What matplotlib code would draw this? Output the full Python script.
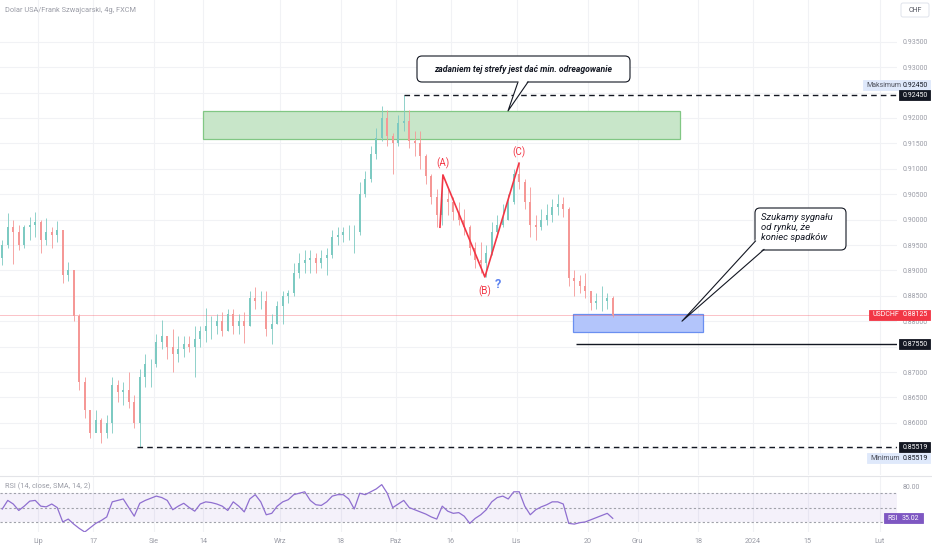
import matplotlib.pyplot as plt
import numpy as np
import pandas as pd
from matplotlib.lines import Line2D
from matplotlib.patches import FancyBboxPatch, Polygon, Rectangle
from matplotlib.ticker import FormatStrFormatter, FuncFormatter
from matplotlib.transforms import Affine2D

plt.rcParams["font.family"] = ["Roboto", "DejaVu Sans"]

W, H = 932, 550
ORIGIN = np.datetime64("2023-07-03")

# USDCHF, one candle per trading day (22 Jun - 24 Nov 2023)
days = pd.bdate_range("2023-06-22", "2023-11-24")
first_open = 0.8925
high = [
    0.8960, 0.9013, 0.9000, 0.8990, 0.8990, 0.9005, 0.9015,
    0.9000, 0.9003, 0.8985, 0.8998, 0.8980, 0.8917, 0.8900, 0.8815, 0.8690, 0.8625,
    0.8625, 0.8610, 0.8615, 0.8690, 0.8685, 0.8680, 0.8700, 0.8655, 0.8705, 0.8735,
    0.8725, 0.8775, 0.8802, 0.8770, 0.8785, 0.8770, 0.8770, 0.8770, 0.8790, 0.8790,
    0.8826, 0.8810, 0.8815, 0.8818, 0.8825, 0.8825, 0.8815, 0.8818, 0.8860, 0.8867,
    0.8860, 0.8860, 0.8815, 0.8840, 0.8860, 0.8862, 0.8915, 0.8935, 0.8940, 0.8940,
    0.8935, 0.8940, 0.8945, 0.8980, 0.8985, 0.8985, 0.8990, 0.8990, 0.9075, 0.9095,
    0.9145, 0.9180, 0.9223, 0.9215, 0.9170, 0.9205, 0.92450, 0.9215, 0.9175, 0.9175,
    0.9130, 0.9090, 0.9060, 0.9088, 0.9060, 0.9045, 0.9035, 0.9020, 0.8990, 0.8955,
    0.8955, 0.8950, 0.8995, 0.9010, 0.9030, 0.9050, 0.9100, 0.9112, 0.9080, 0.9065,
    0.9010, 0.9020, 0.9030, 0.9040, 0.9050, 0.9045, 0.9025, 0.8900, 0.8890, 0.8895,
    0.8860, 0.8855, 0.8870, 0.8855, 0.8850,
]
low = [
    0.8910, 0.8945, 0.8912, 0.8940, 0.8945, 0.8960, 0.8965,
    0.8935, 0.8950, 0.8945, 0.8955, 0.8876, 0.8880, 0.8800, 0.8665, 0.8610, 0.8570,
    0.8585, 0.8560, 0.8570, 0.8580, 0.8640, 0.8635, 0.8630, 0.8590, 0.85519, 0.8670,
    0.8670, 0.8710, 0.8745, 0.8725, 0.8700, 0.8720, 0.8730, 0.8740, 0.8690, 0.8750,
    0.8760, 0.8765, 0.8775, 0.8770, 0.8780, 0.8775, 0.8775, 0.8757, 0.8790, 0.8825,
    0.8825, 0.8770, 0.8755, 0.8795, 0.8795, 0.8835, 0.8850, 0.8885, 0.8895, 0.8895,
    0.8895, 0.8905, 0.8890, 0.8925, 0.8950, 0.8955, 0.8960, 0.8935, 0.8970, 0.9045,
    0.9075, 0.9120, 0.9155, 0.9145, 0.9090, 0.9145, 0.9175, 0.9140, 0.9125, 0.9100,
    0.9070, 0.9030, 0.8985, 0.8990, 0.9010, 0.9000, 0.8990, 0.8970, 0.8930, 0.8905,
    0.8895, 0.8887, 0.8930, 0.8965, 0.8985, 0.9000, 0.9030, 0.9060, 0.9020, 0.8965,
    0.8960, 0.8980, 0.8990, 0.8995, 0.9010, 0.9005, 0.8870, 0.8850, 0.8855, 0.8845,
    0.8822, 0.8825, 0.8820, 0.8825, 0.8808,
]
close = [
    0.8950, 0.8985, 0.8975, 0.8950, 0.8985, 0.8990, 0.8995,
    0.8960, 0.8975, 0.8970, 0.8980, 0.8890, 0.8900, 0.8810, 0.8680, 0.8625, 0.8580,
    0.8605, 0.8580, 0.8600, 0.8675, 0.8660, 0.8665, 0.8640, 0.8600, 0.8690, 0.8715,
    0.8715, 0.8760, 0.8770, 0.8750, 0.8735, 0.8745, 0.8755, 0.8750, 0.8765, 0.8780,
    0.8790, 0.8790, 0.8800, 0.8780, 0.8815, 0.8790, 0.8800, 0.8790, 0.8845, 0.8840,
    0.8840, 0.8785, 0.8795, 0.8830, 0.8850, 0.8855, 0.8895, 0.8915, 0.8920, 0.8925,
    0.8915, 0.8925, 0.8930, 0.8965, 0.8970, 0.8975, 0.8975, 0.8975, 0.9050, 0.9080,
    0.9130, 0.9160, 0.9200, 0.9165, 0.9150, 0.9190, 0.9195, 0.9155, 0.9150, 0.9125,
    0.9085, 0.9045, 0.9010, 0.9040, 0.9035, 0.9015, 0.9000, 0.8985, 0.8945, 0.8920,
    0.8915, 0.8935, 0.8975, 0.8990, 0.9000, 0.9035, 0.9090, 0.9075, 0.9035, 0.8990,
    0.8985, 0.9000, 0.9010, 0.9025, 0.9030, 0.9020, 0.8885, 0.8880, 0.8870, 0.8860,
    0.8835, 0.8840, 0.8840, 0.8845, 0.88125,
]
rsi = [
    48, 60, 55, 46, 52, 59, 60,
    52, 51, 55, 50, 30, 34, 27, 21, 16, 22,
    28, 32, 37, 58, 60, 62, 50, 38, 56, 60,
    63, 66, 64, 60, 47, 52, 56, 50, 45, 55,
    58, 57, 55, 52, 46, 58, 52, 44, 62, 68,
    58, 40, 42, 52, 58, 61, 68, 70, 72, 60,
    54, 53, 58, 66, 68, 68, 62, 48, 70, 68,
    72, 76, 82, 70, 50, 55, 60, 50, 47, 44,
    41, 37, 34, 52, 45, 42, 43, 38, 28, 35,
    40, 47, 58, 64, 66, 62, 72, 72, 52, 40,
    47, 51, 54, 58, 58, 55, 28, 27, 29, 30,
    33, 36, 39, 42, 35,
]

tick_dates = ["2023-07-03", "2023-07-17", "2023-08-01", "2023-08-14", "2023-09-01",
              "2023-09-18", "2023-10-02", "2023-10-16", "2023-11-01", "2023-11-20",
              "2023-12-01", "2023-12-18", "2024-01-01", "2024-01-15", "2024-02-01"]
tick_labels = ["Lip", "17", "Sie", "14", "Wrz", "18", "Paź", "16", "Lis", "20",
               "Gru", "18", "2024", "15", "Lut"]
price_ticks = np.arange(0.855, 0.9351, 0.005)
hidden_ticks = [0.855, 0.875, 0.925]  # covered by the price tags

last_price = 0.88125
last_rsi = 35.02
max_price = 0.92450
min_price = 0.85519
target_level = 0.87550

green_zone = ("2023-08-14 00:00", "2023-12-12 18:00", 0.91590, 0.92140)
blue_zone = ("2023-11-15 06:00", "2023-12-18 22:00", 0.87790, 0.88150)
abc_times = ["2023-10-12 02:00", "2023-10-12 15:00", "2023-10-24 06:00", "2023-11-01 11:00"]
abc_prices = [0.8985, 0.9088, 0.8887, 0.9111]
max_from = "2023-10-03 12:00"
min_from = "2023-07-27 00:00"
target_from = "2023-11-15 19:00"
tip1 = ("2023-10-30 11:00", 0.9214)
tip2 = ("2023-12-13 02:00", 0.8800)


def to_t(stamp):
    ts = pd.Timestamp(stamp)
    d = np.datetime64(ts.date(), "D")
    return np.busday_count(ORIGIN, d) + (ts.hour + ts.minute / 60) / 24


def price_fmt(v, _pos):
    if any(abs(v - h) < 1e-6 for h in hidden_ticks):
        return ""
    return "%.5f" % v


def main():
    gray = "#9a9ca6"
    dark = "#131722"
    up_c, down_c = "#7dcac2", "#f59896"

    fig = plt.figure(figsize=(W / 100, H / 100), dpi=100)
    fig.patch.set_facecolor("white")
    ax = fig.add_axes([0, 1 - 475 / H, 897 / W, 475 / H])
    ax_rsi = fig.add_axes([0, 1 - 532 / H, 897 / W, 56 / H])
    PX = Affine2D().scale(1, -1).translate(0, H)

    x0, x1 = -38 / 5.5, 859 / 5.5
    t_days = np.busday_count(ORIGIN, days.values.astype("datetime64[D]")).astype(float)
    tc = t_days + 0.5
    hi, lo, cl = np.array(high), np.array(low), np.array(close)
    op = np.r_[first_open, cl[:-1]]
    cols = np.where(cl >= op, up_c, down_c)
    tick_t = [to_t(d) for d in tick_dates]

    for a in (ax, ax_rsi):
        a.set_xlim(x0, x1)
        a.set_xticks(tick_t)
        a.grid(axis="x", color="#f1f2f5", lw=0.8)
        a.set_axisbelow(True)
        for s in a.spines.values():
            s.set_visible(False)
    ax.set_ylim(0.92 - 357 / 5080, 0.92 + 118 / 5080)

    # price pane
    ax.set_yticks(price_ticks)
    ax.yaxis.set_major_formatter(FuncFormatter(price_fmt))
    ax.yaxis.tick_right()
    ax.grid(axis="y", color="#f1f2f5", lw=0.8)
    ax.tick_params(axis="y", length=0, labelsize=5, labelcolor=gray, pad=4.1)
    ax.tick_params(axis="x", length=0, labelbottom=False)

    gz = green_zone
    ax.add_patch(Rectangle((to_t(gz[0]), gz[2]), to_t(gz[1]) - to_t(gz[0]), gz[3] - gz[2],
                           facecolor="#c8e6c9", edgecolor="#81c784", lw=0.9, zorder=2))
    bz = blue_zone
    ax.add_patch(Rectangle((to_t(bz[0]), bz[2]), to_t(bz[1]) - to_t(bz[0]), bz[3] - bz[2],
                           facecolor="#b3c5fb", edgecolor="#6a8ff0", lw=0.9, zorder=2))

    ax.axhline(last_price, color="#f23645", alpha=0.3, lw=0.7, zorder=2)
    ax.vlines(tc, lo, hi, colors=cols, lw=0.6, zorder=3)
    ax.bar(tc, np.maximum(np.abs(cl - op), 0.00006), bottom=np.minimum(op, cl),
           width=0.4, color=cols, lw=0, zorder=3)

    ax.hlines(max_price, to_t(max_from), x1, colors=dark, lw=1, linestyles=(0, (4, 3)), zorder=4)
    ax.hlines(min_price, to_t(min_from), x1, colors=dark, lw=1, linestyles=(0, (4, 3)), zorder=4)
    ax.hlines(target_level, to_t(target_from), x1, colors=dark, lw=1, zorder=4)

    abc_t = [to_t(s) for s in abc_times]
    ax.plot(abc_t, abc_prices, color="#f23645", lw=1.2, zorder=5)
    for (lab, i, dy) in [("(A)", 1, 12), ("(B)", 2, -14), ("(C)", 3, 11)]:
        ax.annotate(lab, (abc_t[i], abc_prices[i]), xytext=(0, dy * 0.72),
                    textcoords="offset points", ha="center", va="center",
                    color="#f23645", fontsize=7)
    ax.annotate("?", (abc_t[2], abc_prices[2]), xytext=(13 * 0.72, -7 * 0.72),
                textcoords="offset points", ha="center", va="center",
                color="#5b82f0", fontsize=9, fontweight="bold")

    ax.text(5 / 897, 1 - 10 / 475, "Dolar USA/Frank Szwajcarski, 4g, FXCM",
            transform=ax.transAxes, fontsize=5.3, color=gray, va="center")

    # RSI pane
    ax_rsi.set_ylim(16, 94)
    ax_rsi.axhspan(30, 70, color="#7e57c2", alpha=0.08, lw=0)
    for lev in (70, 50, 30):
        ax_rsi.axhline(lev, color="#a0a2aa", lw=0.8, ls=(0, (2, 2)))
    ax_rsi.plot(tc, rsi, color="#8f6fd0", lw=0.9)
    ax_rsi.set_yticks([80])
    ax_rsi.yaxis.set_major_formatter(FormatStrFormatter("%.2f"))
    ax_rsi.yaxis.tick_right()
    ax_rsi.tick_params(axis="y", length=0, labelsize=5, labelcolor=gray, pad=4.1)
    ax_rsi.set_xticklabels(tick_labels)
    ax_rsi.tick_params(axis="x", length=0, labelsize=5.2, labelcolor=gray, pad=4)
    ax_rsi.text(5 / 897, 1 - 10 / 56, "RSI (14, close, SMA, 14, 2)",
                transform=ax_rsi.transAxes, fontsize=5.3, color=gray, va="center")
    fig.add_artist(Line2D([0, W], [476, 476], transform=PX, color="#e3e4e8", lw=0.8))

    def ypx(a, v):
        return H - a.transData.transform((0, v))[1]

    def xpx(a, t):
        return a.transData.transform((t, 0))[0]

    def tag(xa, xb, yc, fc, parts, ec=None):
        fig.add_artist(Rectangle((xa, yc - 5), xb - xa, 10, transform=PX, facecolor=fc,
                                 edgecolor=ec or fc, lw=0.6, zorder=20))
        for (xt, s, c) in parts:
            fig.text(xt, yc, s, transform=PX, color=c, fontsize=5, ha="left",
                     va="center", zorder=21)

    y_max = ypx(ax, max_price)
    tag(863, 930, y_max - 10, "#dfe9fb", [(866, "Maksimum", "#50535e"), (902.7, "0.92450", dark)])
    tag(899, 930, y_max, dark, [(902.7, "0.92450", "white")])
    tag(869, 930, ypx(ax, last_price), "#f23645",
        [(872.5, "USDCHF", "white"), (902.7, "%.5f" % last_price, "white")])
    tag(899, 930, ypx(ax, target_level), dark, [(902.7, "%.5f" % target_level, "white")])
    y_min = ypx(ax, min_price)
    tag(899, 930, y_min, dark, [(902.7, "%.5f" % min_price, "white")])
    tag(867, 930, y_min + 11, "#dfe9fb", [(870, "Minimum", "#50535e"), (902.7, "%.5f" % min_price, dark)])
    tag(884, 923, ypx(ax_rsi, last_rsi), "#7e57c2",
        [(887, "RSI", "white"), (902, "%.2f" % last_rsi, "white")])
    fig.add_artist(FancyBboxPatch((901, 3), 28, 14, boxstyle="round,pad=0,rounding_size=2",
                                  transform=PX, facecolor="white", edgecolor="#e0e3eb", lw=0.7, zorder=20))
    fig.text(915, 10, "CHF", transform=PX, color="#50535e", fontsize=5, ha="center",
             va="center", zorder=21)

    # callouts
    def callout(bx, by, bw, bh, base, tip, text, **kw):
        fig.add_artist(FancyBboxPatch((bx, by), bw, bh, boxstyle="round,pad=0,rounding_size=5",
                                      transform=PX, facecolor="white", edgecolor=dark,
                                      lw=0.8, zorder=30))
        tx, ty = xpx(ax, to_t(tip[0])), ypx(ax, tip[1])
        (ax1, ay1), (ax2, ay2) = base
        fig.add_artist(Polygon([(ax1, ay1 - 1.5), (tx, ty), (ax2, ay2 - 1.5)], closed=True,
                               transform=PX, facecolor="white", edgecolor="none", zorder=31))
        fig.add_artist(Line2D([ax1, tx, ax2], [ay1, ty, ay2], transform=PX, color=dark,
                              lw=0.8, zorder=32))
        fig.text(transform=PX, zorder=33, color=dark, **kw, s=text)

    callout(417, 56, 213, 26, [(518, 82), (528, 82)], tip1,
            "zadaniem tej strefy jest dać min. odreagowanie",
            x=523.5, y=69, ha="center", va="center", fontsize=6.2,
            fontweight="bold", fontstyle="italic")
    callout(755, 208, 91, 42, [(755.5, 241), (764, 249.5)], tip2,
            "Szukamy sygnału\nod rynku, że\nkoniec spadków",
            x=761, y=213, ha="left", va="top", fontsize=6.8, fontstyle="italic",
            linespacing=1.15)

    fig.savefig("out.png", dpi=100, facecolor="white")


if __name__ == "__main__":
    assert len(high) == len(low) == len(close) == len(rsi) == len(days)
    main()
